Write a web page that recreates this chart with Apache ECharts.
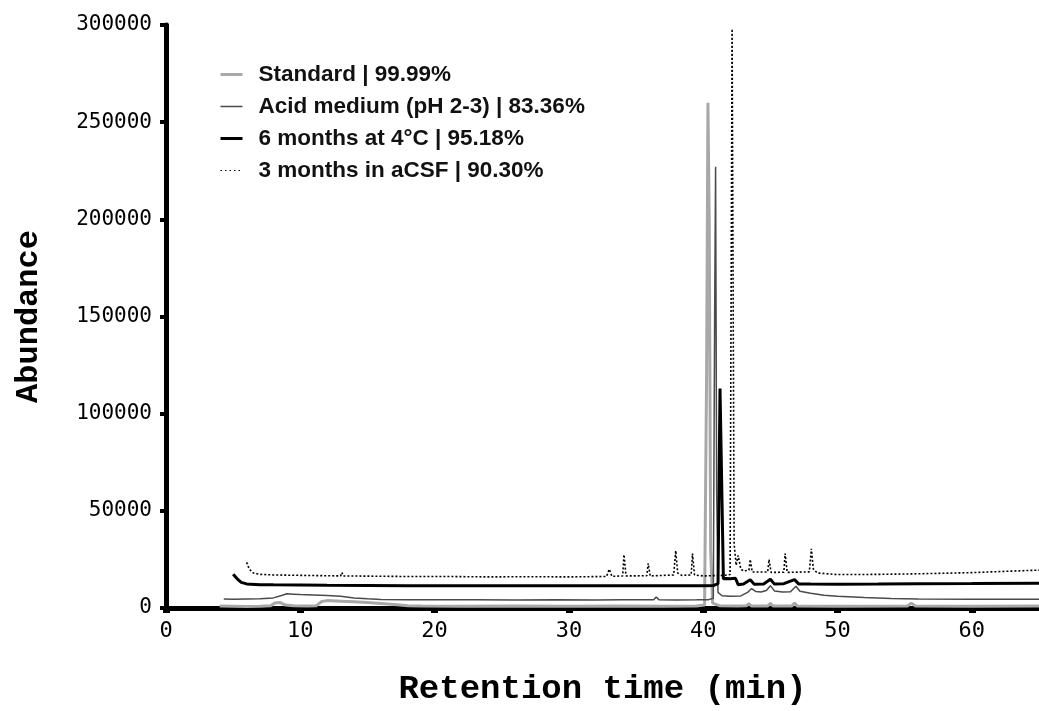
<!DOCTYPE html>
<html>
<head>
<meta charset="utf-8">
<script src="https://cdn.jsdelivr.net/npm/echarts@6/dist/echarts.min.js"></script>
<style>
  html, body { margin: 0; padding: 0; background: #fff; }
  #chart { width: 1039px; height: 711px; }
</style>
</head>
<body>
<div id="chart"></div>
<script>
// series names as shown in the legend
const seriesNames = [
    'Standard | 99.99%',
    'Acid medium (pH 2-3) | 83.36%',
    '6 months at 4°C | 95.18%',
    '3 months in aCSF | 90.30%'
];

const xTicks = [0, 10, 20, 30, 40, 50, 60];
const yTicks = [0, 50000, 100000, 150000, 200000, 250000, 300000];

// [retention time (min), abundance]
const standard = [
    [4.0, 1000], [5, 900], [6, 800], [7, 900], [7.8, 1200], [8.1, 2600], [8.5, 2800], [8.9, 1500],
    [9.5, 1100], [10.5, 1000], [11.2, 1200], [11.6, 3400], [12.0, 3800], [13, 3500], [14, 3200],
    [15, 2800], [16, 2300], [17, 1800], [18, 1200], [19, 1000], [22, 900], [26, 1000], [30, 900],
    [34, 1000], [37, 900], [39.5, 1000], [40.1, 1500], [40.25, 120000], [40.35, 260000],
    [40.45, 197000], [40.55, 30000], [40.7, 2500], [41.2, 1200], [42.5, 1000], [43.2, 1100],
    [43.4, 2200], [43.6, 1000], [44.8, 1000], [45.0, 2400], [45.2, 1000], [46.6, 1000],
    [46.8, 2600], [47.0, 1000], [50, 900], [55.2, 1000], [55.5, 2500], [55.8, 1000], [60, 900], [65, 1000]
];

const acidMedium = [
    [4.3, 4600], [5, 4500], [6, 4600], [7, 4700], [8, 5200], [8.6, 6400], [9.0, 7300], [9.5, 7100],
    [10, 6900], [11, 6700], [12, 6400], [13, 6000], [14, 5200], [15, 4700], [16, 4400], [18, 4300],
    [20, 4200], [23, 4200], [26, 4100], [29, 4200], [32, 4100], [34, 4200], [36.3, 4200],
    [36.5, 5600], [36.7, 4300], [38, 4100], [39.5, 4200], [40.4, 4300], [40.75, 5000],
    [40.85, 150000], [40.92, 227000], [41.0, 60000], [41.1, 8000], [41.4, 6300], [42, 6000],
    [42.8, 6200], [43.3, 8000], [43.6, 10000], [43.9, 8500], [44.3, 8200], [44.7, 9000],
    [45.0, 11500], [45.3, 8800], [45.9, 8200], [46.5, 8400], [46.9, 11200], [47.2, 8600],
    [48, 7600], [49, 6600], [50, 6000], [52, 5400], [54, 4900], [56, 4600], [60, 4500], [65, 4500]
];

const sixMonths = [
    [5.0, 17400], [5.3, 15000], [5.6, 13200], [6.0, 12400], [7, 12000], [8, 11900], [10, 11800],
    [12, 11700], [15, 11600], [18, 11500], [21, 11500], [24, 11400], [27, 11500], [30, 11400],
    [33, 11500], [36, 11400], [38, 11500], [40, 11500], [40.8, 11600], [41.1, 12500],
    [41.25, 113000], [41.35, 113000], [41.5, 15000], [41.7, 15200], [42.0, 15000], [42.4, 15300],
    [42.6, 12000], [43.0, 12300], [43.5, 14500], [43.8, 12200], [44.5, 12400], [45, 14800],
    [45.3, 12300], [46, 12500], [46.8, 14600], [47.1, 12400], [48, 12300], [50, 12200],
    [53, 12300], [56, 12500], [60, 12600], [65, 12800]
];

const aCSF = [
    [6.0, 23500], [6.2, 20000], [6.5, 18000], [7, 17300], [8, 17000], [9, 16900], [10, 16800],
    [12, 16600], [13.0, 16500], [13.1, 18300], [13.2, 16500], [15, 16400], [18, 16200],
    [21, 16200], [24, 16000], [27, 16100], [30, 16000], [32.8, 16200], [33.0, 20000],
    [33.2, 16300], [34.0, 16500], [34.1, 27500], [34.25, 16500], [35.8, 16600], [35.9, 23000],
    [36.05, 16500], [37.8, 17000], [37.95, 29500], [38.1, 18000], [38.4, 16800], [39.1, 17000],
    [39.2, 28000], [39.35, 17000], [40, 16500], [41.5, 16800], [42.0, 17200], [42.15, 298000],
    [42.3, 33000], [42.45, 22000], [42.6, 27000], [42.8, 20000], [43.0, 19000], [43.4, 19500],
    [43.5, 25000], [43.65, 18500], [44.8, 18500], [44.9, 25000], [45.05, 18300], [46.0, 18400],
    [46.1, 28000], [46.25, 18300], [47.9, 18600], [48.05, 30500], [48.2, 20000], [48.5, 18000],
    [50, 17200], [53, 17300], [56, 17600], [60, 18200], [63, 19000], [65, 19500]
];

const lineStyles = [
    { color: '#a8a8a8', width: 3, type: 'solid' },
    { color: '#4a4a4a', width: 1.5, type: 'solid' },
    { color: '#000000', width: 3, type: 'solid' },
    { color: '#000000', width: 1.6, type: [2, 2] }
];

const allData = [standard, acidMedium, sixMonths, aCSF];

const chart = echarts.init(document.getElementById('chart'));

chart.setOption({
    animation: false,
    backgroundColor: '#fff',
    grid: {
        left: 166,
        top: 25,
        width: 877,
        height: 587
    },
    legend: {
        orient: 'vertical',
        left: 214,
        top: 58,
        itemWidth: 22,
        itemHeight: 14,
        itemGap: 9,
        itemStyle: { opacity: 0 },
        formatter: (name) => '{t|' + name + '}',
        textStyle: {
            rich: {
                t: {
                    fontFamily: 'Liberation Sans',
                    fontWeight: 'bold',
                    fontSize: 22.5,
                    lineHeight: 22,
                    color: '#111',
                    padding: [0, 0, 0, 11]
                }
            }
        },
        data: seriesNames.map((name, i) => ({
            name: name,
            lineStyle: {
                color: lineStyles[i].color,
                width: i === 3 ? 1.2 : lineStyles[i].width,
                type: i === 3 ? [1.5, 3] : 'solid'
            }
        }))
    },
    xAxis: {
        type: 'value',
        min: 0,
        max: 65,
        interval: 10,
        name: 'Retention time (min)',
        nameLocation: 'middle',
        nameGap: 64,
        nameTextStyle: {
            fontFamily: 'Liberation Mono',
            fontWeight: 'bold',
            fontSize: 34,
            color: '#000'
        },
        splitLine: { show: false },
        axisLine: { lineStyle: { color: '#000', width: 5 } },
        axisTick: { length: 5, lineStyle: { color: '#000', width: 7 } },
        axisLabel: {
            margin: 12,
            fontFamily: 'DejaVu Sans Mono',
            fontSize: 22,
            color: '#000',
            showMaxLabel: false,
            formatter: (v) => (xTicks.includes(v) ? String(v) : '')
        }
    },
    yAxis: {
        type: 'value',
        min: 0,
        max: 300000,
        interval: 50000,
        name: 'Abundance',
        nameLocation: 'middle',
        nameGap: 121,
        nameRotate: 90,
        nameTextStyle: {
            fontFamily: 'Liberation Mono',
            fontWeight: 'bold',
            fontSize: 32,
            color: '#000'
        },
        splitLine: { show: false },
        axisLine: { show: true, lineStyle: { color: '#000', width: 5 } },
        axisTick: { show: true, length: 6, lineStyle: { color: '#000', width: 4 } },
        axisLabel: {
            margin: 14,
            fontFamily: 'DejaVu Sans Mono',
            fontSize: 21,
            color: '#000',
            formatter: (v) => (yTicks.includes(v) ? String(v) : '')
        }
    },
    series: seriesNames.map((name, i) => ({
        name: name,
        type: 'line',
        data: allData[i],
        showSymbol: false,
        symbol: 'none',
        clip: true,
        color: lineStyles[i].color,
        lineStyle: lineStyles[i],
        z: 2 + i
    }))
});
</script>
</body>
</html>
